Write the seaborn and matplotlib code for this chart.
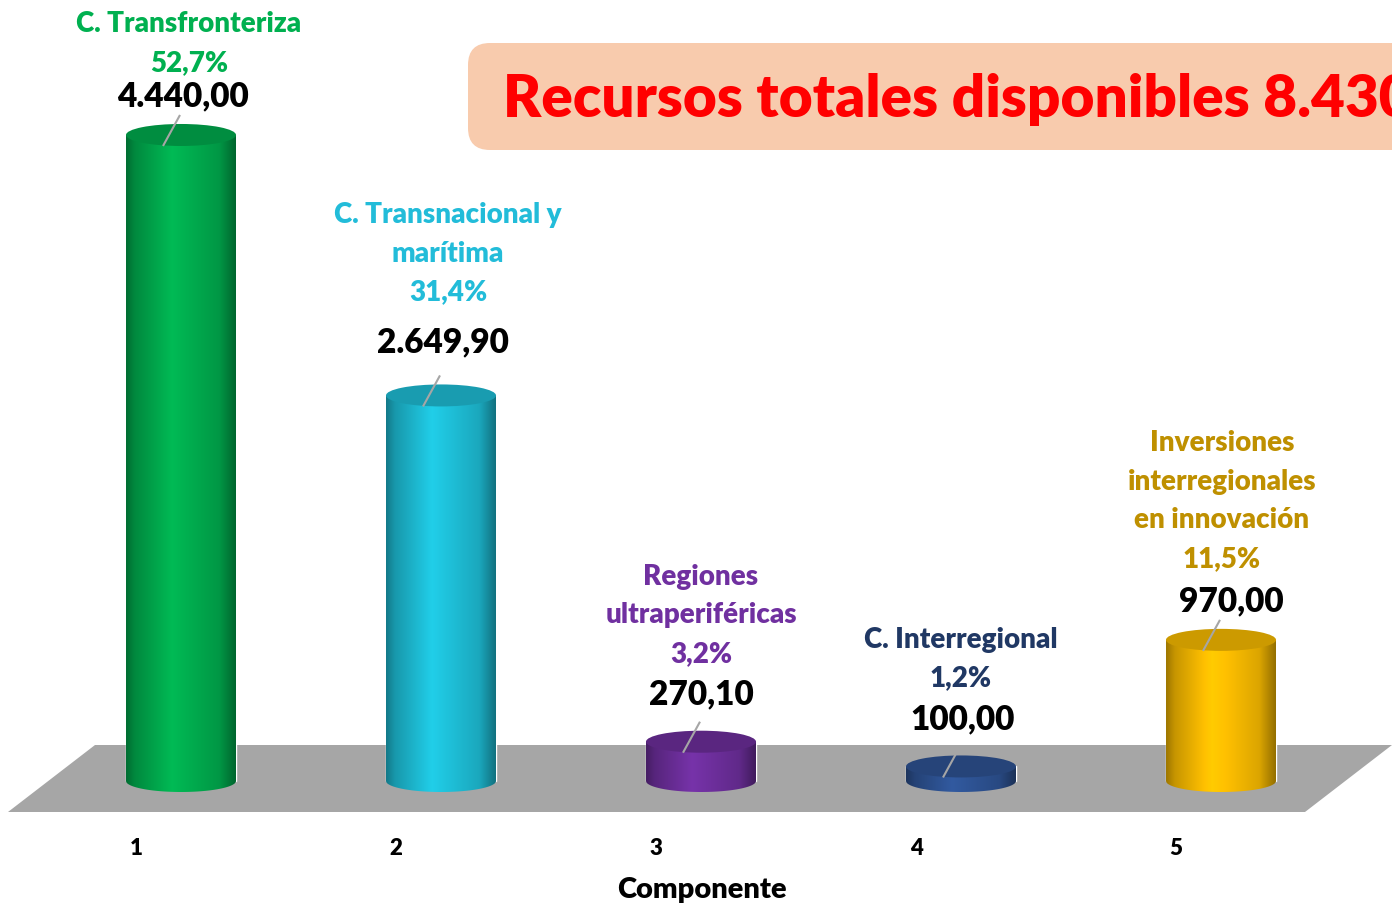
import numpy as np
import pandas as pd
import matplotlib
matplotlib.use("Agg")
import matplotlib.pyplot as plt
import seaborn as sns
from matplotlib.patches import Ellipse, Polygon, FancyBboxPatch
from matplotlib.colors import to_rgb
from matplotlib.path import Path

# ------------------------------------------------------------
# datos
# ------------------------------------------------------------
componentes = ["1", "2", "3", "4", "5"]
recursos = [4440.00, 2649.90, 270.10, 100.00, 970.00]
valor_txt = ["4.440,00", "2.649,90", "270,10", "100,00", "970,00"]
nombres = ["C. Transfronteriza",
           "C. Transnacional y\nmarítima",
           "Regiones\nultraperiféricas",
           "C. Interregional",
           "Inversiones\ninterregionales\nen innovación"]
porcentajes = ["52,7%", "31,4%", "3,2%", "1,2%", "11,5%"]
titulo = "Recursos totales disponibles 8.430 M€"

# estilo
colores = ["#00b050", "#1fc3dc", "#7030a0", "#2f5597", "#ffc000"]
col_texto = ["#00b050", "#22bcd9", "#7030a0", "#203864", "#bf9000"]
sep_valor = [39, 53, 47, 47, 39]   # px entre tapa y cifra
sep_cat = [35, 52, 43, 43, 44]     # px entre cifra y porcentaje
dx_valor = [2, 2, 0, 2, 10]        # px desplazamiento horizontal cifra
dx_cat = [8, 7, 0, 0, 1]           # px desplazamiento horizontal nombre
peso = "heavy"

sns.set_theme(style="white")
plt.rcParams["font.family"] = ["Lato", "DejaVu Sans"]

W, H = 1392, 908
fig = plt.figure(figsize=(W / 100, H / 100), dpi=100)
fig.patch.set_facecolor("white")

# escala vertical: px por unidad
k = 0.1455
y0, y1 = -250, 5000
base_px = 781 + (-y0) * k          # borde inferior del eje (px desde arriba)
alto_px = (y1 - y0) * k
ax = fig.add_axes([0, (H - base_px) / H, 1, alto_px / H])
ax.set_facecolor("none")

df = pd.DataFrame({"Componente": componentes, "Recursos": recursos})
ancho = 110 / 260
sns.barplot(data=df, x="Componente", y="Recursos", hue="Componente",
            palette=colores, width=ancho, saturation=1, legend=False, ax=ax,
            zorder=3)
ax.set_xlim(-181 / 260, (W - 181) / 260)
ax.set_ylim(y0, y1)

# suelo gris
suelo = [(8, 812), (95, 745), (W, 745), (1305, 812)]
fig.add_artist(Polygon([(x / W, 1 - y / H) for x, y in suelo], closed=True,
                       transform=fig.transFigure, fc="#a6a6a6", ec="none",
                       zorder=-1))

# cilindros: sombreado, tapa, lineas guia y etiquetas
eh = 22 / k
perfil_x = [0, 0.08, 0.42, 0.85, 1.0]
perfil_f = [0.62, 0.78, 1.06, 0.86, 0.58]
t = np.linspace(np.pi, 2 * np.pi, 60)
for i, bar in enumerate(ax.patches):
    x0 = bar.get_x()
    w = bar.get_width()
    v = bar.get_height()
    xc = x0 + w / 2
    rgb = np.array(to_rgb(colores[i]))

    f = np.interp(np.linspace(0, 1, 200), perfil_x, perfil_f)
    img = np.clip(f[:, None] * rgb[None, :], 0, 1)[None, :, :].repeat(2, axis=0)
    verts = [(x0, v), (x0, 0)]
    verts += list(zip(xc + w / 2 * np.cos(t), eh / 2 * np.sin(t)))
    verts += [(x0 + w, v), (x0, v)]
    silueta = Path(verts)
    im = ax.imshow(img, extent=[x0, x0 + w, -eh / 2, v], aspect="auto",
                   interpolation="bilinear", zorder=3.5)
    im.set_clip_path(silueta, transform=ax.transData)

    ax.add_patch(Ellipse((xc, v), w, eh, fc=np.clip(rgb * 0.8, 0, 1),
                         ec="none", zorder=4))
    ax.plot([xc - 18 / 260, xc - 1 / 260], [v - 11 / k, v + 20 / k],
            color="#a6a6a6", lw=1.5, zorder=5, solid_capstyle="butt")

    ax.annotate(valor_txt[i], xy=(xc, v),
                xytext=(dx_valor[i] * 0.72, sep_valor[i] * 0.72),
                textcoords="offset points", ha="center", va="center",
                fontsize=24, fontweight=peso, color="black")
    ax.annotate(nombres[i] + "\n" + porcentajes[i], xy=(xc, v),
                xytext=(dx_cat[i] * 0.72, (sep_valor[i] + sep_cat[i] - 15) * 0.72),
                textcoords="offset points", ha="center", va="bottom",
                fontsize=20, fontweight=peso, color=col_texto[i],
                linespacing=1.6)

# ejes
ax.set_xticks(np.arange(len(componentes)) - 45 / 260, labels=componentes)
ax.tick_params(axis="x", length=0, pad=15, labelsize=16, labelcolor="black")
for lbl in ax.get_xticklabels():
    lbl.set_fontweight(peso)
ax.set_xlabel("Componente", fontsize=21, fontweight=peso, color="black")
ax.xaxis.set_label_coords(702 / W, -0.078)
ax.set_ylabel("")
ax.set_yticks([])
sns.despine(ax=ax, left=True, bottom=True)

# recuadro del titulo
fig.add_artist(FancyBboxPatch((4.68, (H - 150) / 100), 10, 1.07,
                              boxstyle="round,pad=0,rounding_size=0.22",
                              transform=fig.dpi_scale_trans,
                              fc="#f8cbad", ec="none", zorder=1))
fig.text(503 / W, 1 - 99 / H, titulo, color="#ff0000", fontsize=42,
         fontweight=peso, ha="left", va="center", zorder=2)

fig.savefig("out.png", dpi=100)
